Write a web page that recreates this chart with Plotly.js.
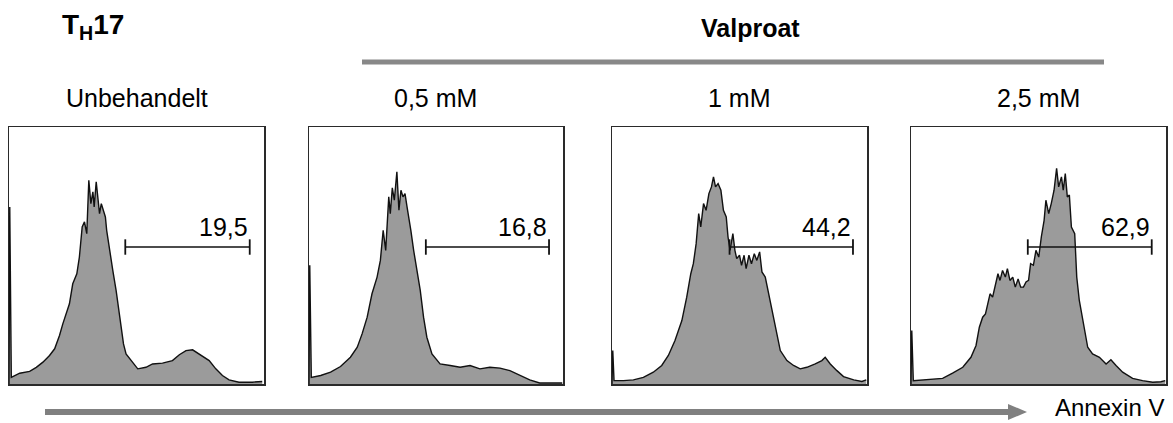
<!DOCTYPE html>
<html>
<head>
<meta charset="utf-8">
<script src="https://cdn.plot.ly/plotly-3.0.1.min.js"></script>
<style>html,body{margin:0;padding:0;background:#fff;}#chart{width:1173px;height:423px;}</style>
</head>
<body>
<div id="chart"></div>
<script>
// ---------- data ----------
const panelLabels = ["Unbehandelt", "0,5 mM", "1 mM", "2,5 mM"];
const gatePercents = ["19,5", "16,8", "44,2", "62,9"];
const gateStart = [45.6, 46.0, 46.1, 45.8];
const gateEnd = [94.4, 94.5, 94.5, 94.4];
const gateLevel = [53.3, 53.3, 53.3, 53.3];
const groupTitle = "Valproat";
const cellTitle = "T<sub>H</sub>17";
const axisName = "Annexin V";

const hist1x = [0, 0.3, 0.9, 4.2, 8.1, 10.7, 13.3, 15.9, 17.9, 19.8, 21.1, 22.4, 23.7, 25.0, 26.6, 27.6, 28.7, 29.6, 30.5, 31.3, 32.1, 32.9, 33.4, 34.2, 35.0, 35.5, 36.2, 37.0, 37.8, 38.3, 39.4, 40.7, 42.0, 43.3, 44.9, 45.9, 47.8, 50.5, 53.7, 56.3, 60.2, 64.1, 66.8, 69.4, 72.0, 74.6, 78.5, 81.1, 83.7, 86.3, 90.2, 95.4, 99.3];
const hist1y = [0, 68.9, 2.6, 4.2, 4.9, 6.5, 8.5, 11.1, 13.7, 18.9, 23.4, 27.3, 31.2, 39.0, 42.9, 49.4, 61.1, 63.1, 58.5, 79.3, 70.2, 74.8, 68.9, 78.7, 71.5, 66.3, 70.2, 67.6, 65.0, 59.8, 52.0, 44.2, 36.4, 26.0, 15.6, 11.7, 9.1, 5.9, 6.5, 7.8, 8.1, 9.1, 11.4, 13.0, 13.3, 11.7, 9.1, 5.9, 3.3, 1.6, 0.7, 0.7, 1.0];

const hist2x = [0, 0.3, 0.9, 4.6, 8.5, 12.4, 16.3, 19.0, 20.9, 22.9, 24.8, 26.8, 28.1, 29.2, 30.2, 31.4, 32.0, 32.8, 33.6, 34.6, 35.4, 36.2, 37.0, 37.8, 38.6, 39.3, 40.1, 41.2, 42.5, 43.8, 45.1, 46.4, 48.4, 51.6, 55.6, 59.5, 63.4, 67.3, 71.2, 75.2, 79.1, 83.0, 86.9, 90.8, 96.1, 99.7];
const hist2y = [0, 46.2, 2.6, 3.3, 4.6, 6.8, 10.4, 14.3, 19.5, 26.0, 35.1, 41.6, 48.1, 59.8, 52.0, 72.8, 66.3, 76.3, 71.5, 82.6, 67.6, 75.4, 72.8, 74.1, 68.9, 65.0, 59.8, 52.0, 44.2, 36.4, 26.0, 18.2, 11.7, 7.8, 7.2, 6.5, 7.2, 5.9, 6.5, 6.2, 5.2, 3.3, 1.6, 0.4, 0.3, 0.4];

const hist3x = [0, 0.3, 0.8, 4.5, 8.4, 12.3, 16.2, 19.5, 22.1, 24.7, 27.4, 29.3, 30.9, 31.9, 33.0, 34.0, 34.8, 35.9, 36.9, 38.0, 39.0, 39.8, 40.6, 41.6, 42.7, 43.7, 44.8, 45.5, 46.3, 47.4, 48.2, 48.9, 50.0, 50.8, 51.8, 52.6, 53.7, 54.7, 55.8, 56.8, 57.9, 58.8, 60.1, 61.4, 62.7, 64.0, 66.0, 68.6, 71.2, 73.8, 76.4, 79.7, 82.3, 83.6, 85.6, 88.2, 90.8, 94.8, 98.0, 99.7];
const hist3y = [0, 13.0, 1.3, 1.3, 1.6, 2.6, 4.6, 7.2, 11.1, 16.9, 24.7, 33.8, 42.9, 46.8, 54.6, 66.3, 61.1, 70.2, 67.6, 74.1, 76.7, 80.6, 76.7, 78.0, 75.4, 67.6, 65.0, 57.2, 52.0, 58.5, 52.0, 48.8, 50.1, 46.2, 50.1, 44.9, 50.1, 46.8, 50.7, 48.1, 51.4, 43.6, 41.6, 35.1, 29.9, 22.1, 13.0, 9.1, 7.2, 5.9, 6.5, 7.8, 9.1, 10.4, 7.8, 5.2, 2.9, 1.6, 1.0, 1.6];

const hist4x = [0, 0.3, 0.9, 4.6, 8.5, 12.4, 16.3, 20.3, 23.5, 25.5, 26.8, 28.1, 29.2, 30.1, 31.0, 32.0, 33.3, 34.1, 34.9, 35.9, 37.0, 37.8, 38.8, 39.9, 40.9, 42.0, 43.0, 44.1, 45.1, 46.1, 46.9, 48.0, 49.0, 50.1, 51.1, 52.2, 52.9, 54.0, 55.0, 56.1, 57.1, 57.9, 59.0, 59.7, 60.5, 61.3, 62.1, 62.9, 64.2, 65.0, 66.0, 67.6, 69.3, 71.2, 73.9, 76.5, 78.4, 80.4, 83.0, 86.9, 90.8, 94.8, 98.0, 99.7];
const hist4y = [0, 20.8, 1.3, 1.6, 1.8, 2.2, 4.2, 6.5, 10.4, 15.0, 22.1, 26.0, 27.3, 31.2, 35.1, 33.8, 39.0, 42.9, 40.3, 44.2, 41.6, 44.9, 40.3, 41.6, 37.7, 40.9, 37.7, 37.7, 39.7, 40.3, 46.8, 46.2, 52.0, 49.4, 57.2, 63.7, 71.5, 66.3, 70.2, 75.4, 83.9, 76.7, 80.6, 75.4, 81.9, 72.8, 73.5, 61.1, 58.5, 41.6, 32.5, 23.4, 14.3, 11.7, 10.4, 7.8, 9.4, 7.2, 4.6, 2.2, 1.3, 0.7, 0.9, 1.3];

const histX = [hist1x, hist2x, hist3x, hist4x];
const histY = [hist1y, hist2y, hist3y, hist4y];

// ---------- layout helpers (pixel geometry) ----------
const W = 1173, H = 423;
const px = v => v / W;
const py = v => 1 - v / H;
const panelLeft = [9, 309, 612, 911];
const panelRight = [264, 563, 867, 1166];
const panelTop = 127, panelBottom = 384;
const FONT = "Liberation Sans, Arial, Helvetica, sans-serif";

const traces = [];
const layout = {
  width: W, height: H,
  margin: {l: 0, r: 0, t: 0, b: 0},
  paper_bgcolor: "#ffffff",
  plot_bgcolor: "#ffffff",
  showlegend: false,
  annotations: [],
  shapes: []
};

for (let i = 0; i < 4; i++) {
  const s = i === 0 ? "" : String(i + 1);
  const xa = "x" + s, ya = "y" + s;
  traces.push({
    type: "scatter", mode: "lines",
    x: histX[i], y: histY[i],
    xaxis: xa, yaxis: ya,
    fill: "tozeroy", fillcolor: "#9b9b9b",
    line: {color: "#111111", width: 1.4, shape: "linear"},
    hoverinfo: "skip"
  });
  traces.push({
    type: "scatter", mode: "lines+markers",
    x: [gateStart[i], gateEnd[i]], y: [gateLevel[i], gateLevel[i]],
    xaxis: xa, yaxis: ya,
    line: {color: "#111111", width: 1.6},
    marker: {symbol: "line-ns", size: 11, color: "#111111", line: {color: "#111111", width: 1.8}},
    hoverinfo: "skip"
  });
  const axCommon = {
    showgrid: false, zeroline: false, showticklabels: false, ticks: "",
    showline: true, mirror: true, linecolor: "#2a2a2a", linewidth: 1.5,
    fixedrange: true
  };
  layout["xaxis" + s] = Object.assign({}, axCommon, {
    domain: [px(panelLeft[i]), px(panelRight[i])], range: [0, 100], anchor: ya
  });
  layout["yaxis" + s] = Object.assign({}, axCommon, {
    domain: [py(panelBottom), py(panelTop)], range: [0, 100], anchor: xa
  });
  // gate percentage
  layout.annotations.push({
    xref: xa, yref: ya, x: gateEnd[i], y: gateLevel[i] + 1.5,
    xanchor: "right", yanchor: "bottom", showarrow: false,
    text: gatePercents[i], font: {family: FONT, size: 25, color: "#000"}
  });
  // panel label
  layout.annotations.push({
    xref: "paper", yref: "paper",
    x: px((panelLeft[i] + panelRight[i]) / 2), y: py(98),
    xanchor: "center", yanchor: "middle", showarrow: false,
    text: panelLabels[i], font: {family: FONT, size: 25, color: "#000"}
  });
}

// title texts
layout.annotations.push({
  xref: "paper", yref: "paper", x: px(60), y: py(27),
  xanchor: "left", yanchor: "middle", showarrow: false,
  text: "<b>" + cellTitle + "</b>", font: {family: FONT, size: 28, color: "#000"}
});
layout.annotations.push({
  xref: "paper", yref: "paper", x: px(750), y: py(28),
  xanchor: "center", yanchor: "middle", showarrow: false,
  text: "<b>" + groupTitle + "</b>", font: {family: FONT, size: 25, color: "#000"}
});
layout.annotations.push({
  xref: "paper", yref: "paper", x: px(1166), y: py(423),
  xanchor: "right", yanchor: "bottom", showarrow: false,
  text: axisName, font: {family: FONT, size: 24, color: "#000"}
});

// Valproat bracket line
layout.shapes.push({
  type: "line", xref: "paper", yref: "paper",
  x0: px(362), x1: px(1104), y0: py(62), y1: py(62),
  line: {color: "#888888", width: 5}
});
// Annexin V arrow
layout.shapes.push({
  type: "line", xref: "paper", yref: "paper",
  x0: px(45), x1: px(1010), y0: py(412), y1: py(412),
  line: {color: "#808080", width: 6}
});
layout.shapes.push({
  type: "path", xref: "paper", yref: "paper",
  path: "M " + px(1008) + " " + py(404) + " L " + px(1027) + " " + py(412) + " L " + px(1008) + " " + py(420) + " Z",
  fillcolor: "#808080", line: {color: "#808080", width: 0}
});

Plotly.newPlot("chart", traces, layout, {staticPlot: true, displayModeBar: false});
</script>
</body>
</html>
